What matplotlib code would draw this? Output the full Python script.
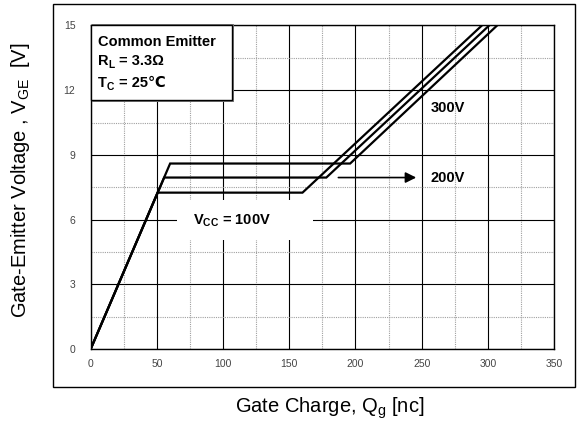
import matplotlib
matplotlib.use('Agg')
import matplotlib.pyplot as plt
from matplotlib import font_manager
from matplotlib.patches import Rectangle

# gate charge curves
q_100 = [0, 50.5, 160, 295.5]
v_100 = [0, 7.25, 7.25, 15]
q_200 = [0, 55.5, 178, 301]
v_200 = [0, 7.95, 7.95, 15]
q_300 = [0, 60, 196, 307]
v_300 = [0, 8.6, 8.6, 15]

x_ticks = [0, 50, 100, 150, 200, 250, 300, 350]
y_ticks = [0, 3, 6, 9, 12, 15]

plt.rcParams['font.family'] = ['Liberation Sans', 'DejaVu Sans']

names = {f.name for f in font_manager.fontManager.ttflist}
if 'Liberation Sans Narrow' in names:
    bold_fam = ['Liberation Sans Narrow', 'DejaVu Sans']
    bsize = 12
else:
    bold_fam = ['Liberation Sans', 'DejaVu Sans']
    bsize = 10.5

W, H = 582, 423


def px(x, y):
    # pixel position -> figure fraction
    return x / W, 1 - y / H


fig = plt.figure(figsize=(W / 100, H / 100), dpi=100)
ax = fig.add_axes([90.7 / W, 1 - 349 / H, (554 - 90.7) / W, (349 - 25.5) / H])

# outer frame
fig.patches.append(Rectangle(px(53, 387), (575 - 53) / W, (387 - 4) / H,
                             transform=fig.transFigure, fill=False, lw=1.0, ec='black'))

ax.set_xlim(0, 350)
ax.set_ylim(0, 15)
ax.set_xticks(x_ticks)
ax.set_yticks(y_ticks)
ax.set_xticks([25, 75, 125, 175, 225, 275, 325], minor=True)
ax.set_yticks([1.5, 4.5, 7.5, 10.5, 13.5], minor=True)
ax.set_axisbelow(True)
ax.grid(which='major', color='black', lw=0.8)
ax.grid(which='minor', color='#a0a0a0', lw=0.8, linestyle=(0, (1, 1)))
ax.tick_params(which='both', length=0, labelsize=7.5, labelcolor='#444444')
ax.tick_params(axis='x', pad=7)
ax.tick_params(axis='y', pad=11)
for s in ax.spines.values():
    s.set_linewidth(1.0)

for q, v in [(q_100, v_100), (q_200, v_200), (q_300, v_300)]:
    ax.plot(q, v, color='black', lw=1.6, zorder=3, solid_joinstyle='miter')

# white patch behind the Vcc label
ax.add_patch(Rectangle((65.2, 5.05), 102.8, 1.85, fc='white', ec='none', zorder=1))
ax.text(107, 5.95, r'V$_\mathregular{CC}$ = 100V', family=bold_fam, weight='bold',
        fontsize=bsize, ha='center', va='center', zorder=4)

ax.annotate('', xy=(248, 7.95), xytext=(185, 7.95),
            arrowprops=dict(arrowstyle='-|>', color='black', lw=1.2, mutation_scale=16), zorder=4)
ax.text(256.5, 7.92, '200V', family=bold_fam, weight='bold', fontsize=bsize,
        ha='left', va='center')
ax.text(256.5, 11.16, '300V', family=bold_fam, weight='bold', fontsize=bsize,
        ha='left', va='center')

# condition box with a small shadow
ax.add_patch(Rectangle((1.2, 11.46), 106.8, 3.6, fc='#777777', ec='none', zorder=4, clip_on=False))
ax.add_patch(Rectangle((0, 11.53), 106.8, 3.47, fc='white', ec='black', lw=1.0, zorder=5, clip_on=False))

tk = dict(family=bold_fam, weight='bold', fontsize=bsize, va='baseline', zorder=6)
sk = dict(family=bold_fam, weight='bold', fontsize=bsize * 0.7, va='baseline', zorder=6)
fig.text(*px(98, 45.5), 'Common Emitter', **tk)
fig.text(*px(98, 65), 'R', **tk)
fig.text(*px(108, 68), 'L', **sk)
fig.text(*px(119, 65), '= 3.3Ω', **tk)
fig.text(*px(98, 87), 'T', **tk)
fig.text(*px(106.5, 90), 'C', **sk)
fig.text(*px(119, 87), '= 25℃', **tk)

fig.text(*px(330, 408), r'Gate Charge, Q$_\mathregular{g}$ [nc]', fontsize=14.5,
         ha='center', va='center')
fig.text(*px(21, 180), r'Gate-Emitter Voltage , V$_\mathregular{GE}$  [V]', fontsize=14.5,
         ha='center', va='center', rotation=90)

fig.savefig('out.png', dpi=100)
